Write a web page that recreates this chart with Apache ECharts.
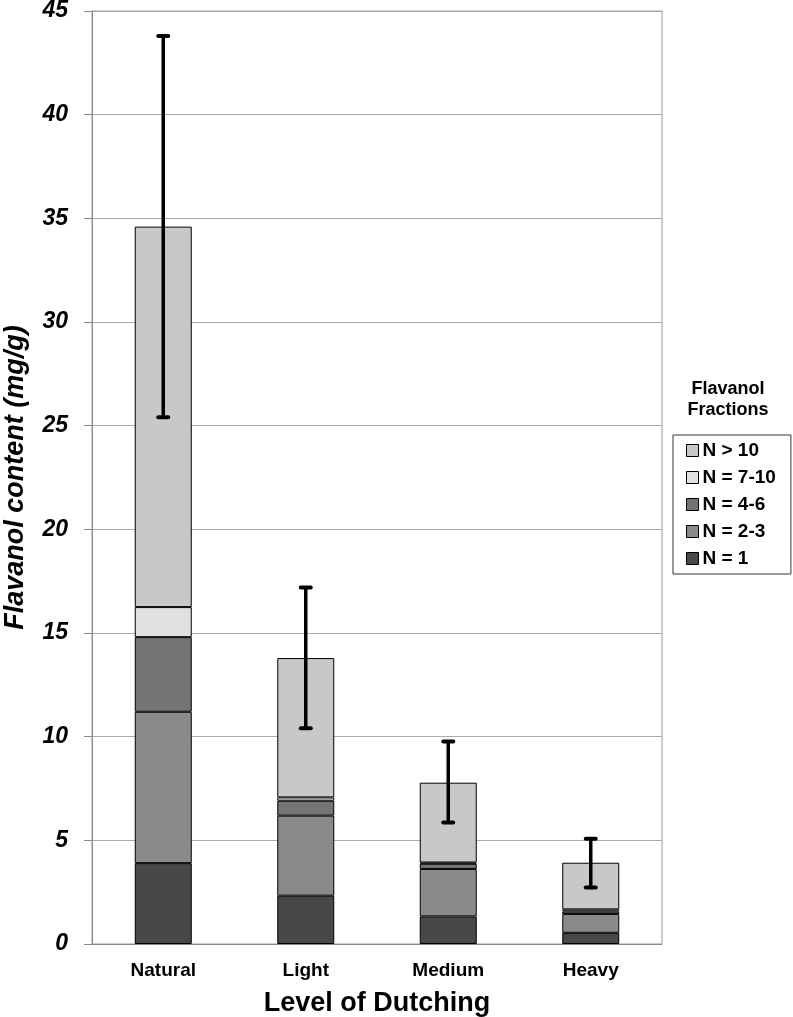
<!DOCTYPE html>
<html>
<head>
<meta charset="utf-8">
<script src="https://cdn.jsdelivr.net/npm/echarts@6/dist/echarts.min.js"></script>
<style>
html,body{margin:0;padding:0;background:#fff;}
#c{width:793px;height:1017px;}
</style>
</head>
<body>
<div id="c"></div>
<script>
var categories = ['Natural', 'Light', 'Medium', 'Heavy'];
var seriesNames = ['N = 1', 'N = 2-3', 'N = 4-6', 'N = 7-10', 'N > 10'];
var n1 = [3.9, 2.33, 1.33, 0.54];
var n23 = [7.3, 3.86, 2.29, 0.91];
var n46 = [3.6, 0.72, 0.25, 0.12];
var n710 = [1.45, 0.16, 0.06, 0.1];
var n10 = [18.35, 6.72, 3.85, 2.25];
var errLow = [25.4, 10.4, 5.86, 2.73];
var errHigh = [43.8, 17.2, 9.77, 5.08];
var yTicks = [0, 5, 10, 15, 20, 25, 30, 35, 40, 45];

var colors = ['#484848', '#8a8a8a', '#747474', '#e0e0e0', '#c8c8c8'];
var values = [n1, n23, n46, n710, n10];
var FONT = '"Liberation Sans", Arial, sans-serif';

var series = values.map(function (v, i) {
  return {
    name: seriesNames[i],
    type: 'bar',
    stack: 'total',
    barWidth: '40%',
    data: v,
    itemStyle: { color: colors[i], borderColor: '#000', borderWidth: 1 },
    emphasis: { disabled: true },
    z: 2
  };
});

series.push({
  type: 'custom',
  name: 'err',
  data: categories.map(function (c, i) { return [i, errLow[i], errHigh[i]]; }),
  z: 10,
  renderItem: function (params, api) {
    var x = api.value(0);
    var lo = api.coord([x, api.value(1)]);
    var hi = api.coord([x, api.value(2)]);
    var cap = 5;
    var st = { stroke: '#000', lineWidth: 3.5 };
    return {
      type: 'group',
      children: [
        { type: 'line', shape: { x1: hi[0], y1: hi[1], x2: lo[0], y2: lo[1] }, style: st },
        { type: 'line', shape: { x1: hi[0] - cap, y1: hi[1], x2: hi[0] + cap, y2: hi[1] }, style: { stroke: '#000', lineWidth: 4, lineCap: 'round' } },
        { type: 'line', shape: { x1: lo[0] - cap, y1: lo[1], x2: lo[0] + cap, y2: lo[1] }, style: { stroke: '#000', lineWidth: 4, lineCap: 'round' } }
      ]
    };
  }
});

var chart = echarts.init(document.getElementById('c'), null, { renderer: 'canvas' });
chart.setOption({
  animation: false,
  backgroundColor: '#fff',
  grid: { left: 92, right: 131, top: 11, bottom: 73, show: true, borderColor: '#9a9a9a', borderWidth: 1, containLabel: false, outerBoundsMode: 'none' },
  xAxis: {
    type: 'category',
    data: categories,
    axisLine: { lineStyle: { color: '#8a8a8a', width: 1 } },
    axisTick: { show: false },
    axisLabel: { color: '#000', fontFamily: FONT, fontWeight: 'bold', fontSize: 19, margin: 17 },
    name: 'Level of Dutching',
    nameLocation: 'middle',
    nameGap: 46,
    nameTextStyle: { color: '#000', fontFamily: FONT, fontWeight: 'bold', fontSize: 27 }
  },
  yAxis: {
    type: 'value',
    min: yTicks[0],
    max: yTicks[yTicks.length - 1],
    interval: 5,
    axisLine: { show: true, lineStyle: { color: '#8a8a8a', width: 1 } },
    axisTick: { show: true, length: 8, lineStyle: { color: '#8a8a8a' } },
    splitLine: { lineStyle: { color: '#ababab', width: 1 } },
    axisLabel: { color: '#000', fontFamily: FONT, fontWeight: 'bold', fontStyle: 'italic', fontSize: 23, margin: 24 },
    name: 'Flavanol content (mg/g)',
    nameLocation: 'middle',
    nameGap: 63,
    nameRotate: 90,
    nameTextStyle: { color: '#000', fontFamily: FONT, fontWeight: 'bold', fontStyle: 'italic', fontSize: 27 }
  },
  legend: {
    data: ['N > 10', 'N = 7-10', 'N = 4-6', 'N = 2-3', 'N = 1'],
    orient: 'vertical',
    left: 673,
    top: 435,
    itemWidth: 12,
    itemHeight: 12,
    itemGap: 8,
    icon: 'rect',
    padding: [6, 15, 6, 13],
    borderColor: '#333',
    borderWidth: 1,
    selectedMode: false,
    itemStyle: { borderColor: '#000', borderWidth: 1 },
    textStyle: { color: '#000', fontFamily: FONT, fontWeight: 'bold', fontSize: 19, padding: [0, 0, 0, -1] }
  },
  graphic: [{
    type: 'text',
    x: 728,
    y: 379,
    style: {
      text: 'Flavanol\nFractions',
      fill: '#000',
      font: 'bold 18px ' + FONT,
      align: 'center',
      textAlign: 'center',
      lineHeight: 21
    }
  }],
  series: series
});
</script>
</body>
</html>
